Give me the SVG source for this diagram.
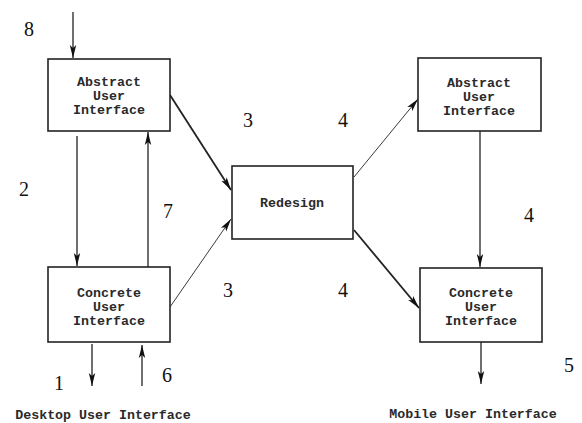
<svg xmlns="http://www.w3.org/2000/svg" width="582" height="423" viewBox="0 0 582 423">
<style>
.box{fill:#fff;stroke:#222;stroke-width:1.6}
.t{font-family:"Liberation Mono","Courier New",monospace;font-size:13.3px;font-weight:bold;fill:#2a2a2a;text-anchor:middle}
.n{font-family:"Liberation Serif","Times New Roman",serif;font-size:20px;fill:#111}
.c{fill:none;stroke:#222;stroke-width:1.3}
.thick{stroke-width:1.8}
.thin{stroke-width:0.9}
</style>
<defs>
<marker id="ah" markerUnits="userSpaceOnUse" markerWidth="14" markerHeight="8" refX="13" refY="4" orient="auto">
<path d="M0,0.8 L13,4 L0,7.2 L3,4 Z" fill="#111"/>
</marker>
</defs>
<rect width="582" height="423" fill="#fff"/>
<g id="connectors">
<line class="c" x1="73" y1="12" x2="73" y2="58" marker-end="url(#ah)"/>
<line class="c" x1="77" y1="136" x2="77" y2="266" marker-end="url(#ah)"/>
<line class="c" x1="148" y1="267" x2="148" y2="132" marker-end="url(#ah)"/>
<line class="c" x1="92" y1="344" x2="92" y2="386" marker-end="url(#ah)"/>
<line class="c" x1="142" y1="386" x2="142" y2="345" marker-end="url(#ah)"/>
<line class="c thick" x1="170" y1="95" x2="231" y2="190" marker-end="url(#ah)"/>
<line class="c thin" x1="170" y1="307" x2="231" y2="219" marker-end="url(#ah)"/>
<line class="c thin" x1="354" y1="177" x2="418" y2="99" marker-end="url(#ah)"/>
<line class="c thick" x1="354" y1="230" x2="419" y2="308" marker-end="url(#ah)"/>
<line class="c" x1="480" y1="131" x2="480" y2="267" marker-end="url(#ah)"/>
<line class="c" x1="481" y1="342" x2="481" y2="384" marker-end="url(#ah)"/>
</g>
<g id="abstract-desktop">
<rect class="box" x="48" y="59" width="122" height="72"/>
<text class="t" x="109" y="86">Abstract</text>
<text class="t" x="109" y="100">User</text>
<text class="t" x="109" y="114">Interface</text>
</g>
<g id="concrete-desktop">
<rect class="box" x="48" y="267" width="122" height="75"/>
<text class="t" x="109" y="297">Concrete</text>
<text class="t" x="109" y="311">User</text>
<text class="t" x="109" y="325">Interface</text>
</g>
<g id="redesign">
<rect class="box" x="232" y="166" width="121" height="73"/>
<text class="t" x="292" y="207">Redesign</text>
</g>
<g id="abstract-mobile">
<rect class="box" x="418" y="58" width="123" height="73"/>
<text class="t" x="479" y="87">Abstract</text>
<text class="t" x="479" y="101">User</text>
<text class="t" x="479" y="115">Interface</text>
</g>
<g id="concrete-mobile">
<rect class="box" x="420" y="268" width="122" height="74"/>
<text class="t" x="481" y="297">Concrete</text>
<text class="t" x="481" y="311">User</text>
<text class="t" x="481" y="325">Interface</text>
</g>
<g id="labels">
<text class="n" x="24" y="36">8</text>
<text class="n" x="19" y="196">2</text>
<text class="n" x="163" y="218">7</text>
<text class="n" x="54" y="390">1</text>
<text class="n" x="162" y="382">6</text>
<text class="n" x="243" y="127">3</text>
<text class="n" x="223" y="297">3</text>
<text class="n" x="338" y="127">4</text>
<text class="n" x="338" y="297">4</text>
<text class="n" x="524" y="222">4</text>
<text class="n" x="564" y="372">5</text>
<text class="t" x="103" y="419">Desktop User Interface</text>
<text class="t" x="473" y="418">Mobile User Interface</text>
</g>
</svg>
